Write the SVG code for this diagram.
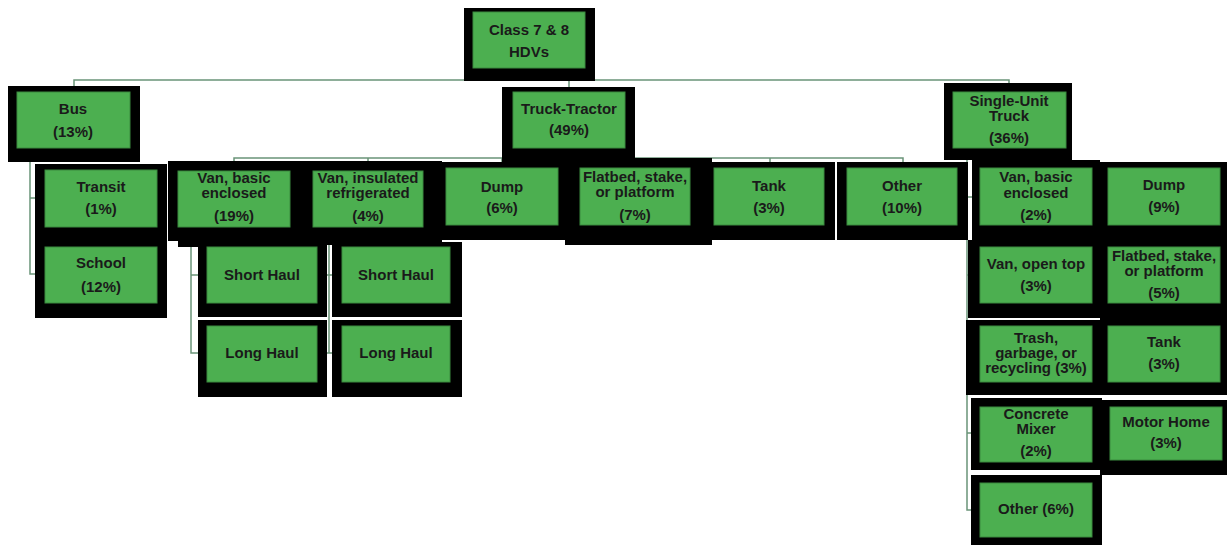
<svg xmlns="http://www.w3.org/2000/svg" width="1227" height="546" viewBox="0 0 1227 546">
<style>
.bk{fill:#000}
.gr{fill:#4caf50;stroke:#3b8a3f;stroke-width:1}
.t{font-family:"Liberation Sans",Arial,sans-serif;font-weight:bold;font-size:15px;fill:#1a1a1a;text-anchor:middle}
.c{fill:none;stroke:#6a9478;stroke-width:1.5}
</style>
<rect width="1227" height="546" fill="#fff"/>
<g id="connectors">
<path class="c" d="M74,86 V80 H1009 V84 M569,80 V88 M529,68 V80"/>
<path class="c" d="M30,162 V274 H36 M30,198 H36"/>
<path class="c" d="M234,162 V158 H903 V162 M368,158 V162 M502,158 V162 M770,158 V162 M635,158 V162"/>
<path class="c" d="M191,245 V353 H199 M191,275 H199"/>
<path class="c" d="M329,245 V353 M326,275 H333 M326,353 H333"/>
<path class="c" d="M967,160 V510 H972 M967,197 H973 M967,275 H972 M967,433 H972"/>
</g>
<g id="root"><rect class="bk" x="464" y="8" width="131" height="73"/><rect class="gr" x="473" y="12" width="112" height="56"/><text class="t" x="529" y="35">Class 7 &amp; 8</text><text class="t" x="529" y="57">HDVs</text></g>
<g id="bus"><rect class="bk" x="8" y="86" width="132" height="76"/><rect class="gr" x="17" y="92" width="113" height="56"/><text class="t" x="73" y="114">Bus</text><text class="t" x="73" y="137">(13%)</text></g>
<g id="truck-tractor"><rect class="bk" x="502" y="87" width="133" height="76"/><rect class="gr" x="513" y="92" width="112" height="56"/><text class="t" x="569" y="114">Truck-Tractor</text><text class="t" x="569" y="135">(49%)</text></g>
<g id="single-unit"><rect class="bk" x="944" y="83" width="128" height="77"/><rect class="gr" x="953" y="92" width="113" height="56"/><text class="t" x="1009" y="106">Single-Unit</text><text class="t" x="1009" y="121">Truck</text><text class="t" x="1009" y="143">(36%)</text></g>
<g id="transit"><rect class="bk" x="35" y="164" width="132" height="77"/><rect class="gr" x="45" y="170" width="112" height="57"/><text class="t" x="101" y="192">Transit</text><text class="t" x="101" y="214">(1%)</text></g>
<g id="school"><rect class="bk" x="35" y="240" width="132" height="78"/><rect class="gr" x="45" y="247" width="112" height="56"/><text class="t" x="101" y="268">School</text><text class="t" x="101" y="292">(12%)</text></g>
<g id="tt-van-basic"><rect class="bk" x="168" y="161" width="130" height="80"/><rect class="bk" x="178" y="200" width="120" height="47"/><rect class="gr" x="178" y="171" width="112" height="56"/><text class="t" x="234" y="183">Van, basic</text><text class="t" x="234" y="198">enclosed</text><text class="t" x="234" y="221">(19%)</text></g>
<g id="tt-van-insulated"><rect class="bk" x="298" y="161" width="144" height="84"/><rect class="gr" x="313" y="171" width="110" height="56"/><text class="t" x="368" y="183">Van, insulated</text><text class="t" x="368" y="198">refrigerated</text><text class="t" x="368" y="221">(4%)</text></g>
<g id="tt-dump"><rect class="bk" x="436" y="162" width="130" height="78"/><rect class="gr" x="446" y="168" width="112" height="57"/><text class="t" x="502" y="192">Dump</text><text class="t" x="502" y="213">(6%)</text></g>
<g id="tt-flatbed"><rect class="bk" x="565" y="158" width="147" height="87"/><rect class="gr" x="580" y="168" width="110" height="57"/><text class="t" x="635" y="182">Flatbed, stake,</text><text class="t" x="635" y="197">or platform</text><text class="t" x="635" y="220">(7%)</text></g>
<g id="tt-tank"><rect class="bk" x="712" y="162" width="123" height="78"/><rect class="gr" x="714" y="168" width="110" height="57"/><text class="t" x="769" y="191">Tank</text><text class="t" x="769" y="213">(3%)</text></g>
<g id="tt-other"><rect class="bk" x="837" y="162" width="131" height="78"/><rect class="gr" x="847" y="168" width="110" height="57"/><text class="t" x="902" y="191">Other</text><text class="t" x="902" y="213">(10%)</text></g>
<g id="su-van-basic"><rect class="bk" x="972" y="160" width="128" height="80"/><rect class="gr" x="980" y="168" width="112" height="57"/><text class="t" x="1036" y="182">Van, basic</text><text class="t" x="1036" y="198">enclosed</text><text class="t" x="1036" y="220">(2%)</text></g>
<g id="su-dump"><rect class="bk" x="1100" y="162" width="127" height="78"/><rect class="gr" x="1108" y="168" width="112" height="57"/><text class="t" x="1164" y="190">Dump</text><text class="t" x="1164" y="212">(9%)</text></g>
<g id="su-van-open"><rect class="bk" x="968" y="240" width="132" height="78"/><rect class="gr" x="980" y="247" width="112" height="56"/><text class="t" x="1036" y="269">Van, open top</text><text class="t" x="1036" y="291">(3%)</text></g>
<g id="su-flatbed"><rect class="bk" x="1100" y="240" width="127" height="78"/><rect class="gr" x="1108" y="247" width="112" height="56"/><text class="t" x="1164" y="261">Flatbed, stake,</text><text class="t" x="1164" y="276">or platform</text><text class="t" x="1164" y="298">(5%)</text></g>
<g id="su-trash"><rect class="bk" x="966" y="320" width="134" height="75"/><rect class="gr" x="980" y="326" width="112" height="56"/><text class="t" x="1036" y="343">Trash,</text><text class="t" x="1036" y="358">garbage, or</text><text class="t" x="1036" y="373">recycling (3%)</text></g>
<g id="su-tank"><rect class="bk" x="1100" y="318" width="127" height="77"/><rect class="gr" x="1108" y="326" width="112" height="56"/><text class="t" x="1164" y="347">Tank</text><text class="t" x="1164" y="369">(3%)</text></g>
<g id="su-concrete"><rect class="bk" x="971" y="398" width="131" height="72"/><rect class="gr" x="980" y="407" width="112" height="55"/><text class="t" x="1036" y="419">Concrete</text><text class="t" x="1036" y="434">Mixer</text><text class="t" x="1036" y="456">(2%)</text></g>
<g id="su-motorhome"><rect class="bk" x="1100" y="400" width="127" height="75"/><rect class="gr" x="1110" y="407" width="112" height="53"/><text class="t" x="1166" y="427">Motor Home</text><text class="t" x="1166" y="448">(3%)</text></g>
<g id="su-other"><rect class="bk" x="971" y="475" width="131" height="70"/><rect class="gr" x="980" y="483" width="112" height="54"/><text class="t" x="1036" y="514">Other (6%)</text></g>
<g id="vb-short"><rect class="bk" x="198" y="242" width="129" height="75"/><rect class="gr" x="207" y="247" width="110" height="56"/><text class="t" x="262" y="280">Short Haul</text></g>
<g id="vi-short"><rect class="bk" x="332" y="242" width="130" height="75"/><rect class="gr" x="342" y="247" width="108" height="56"/><text class="t" x="396" y="280">Short Haul</text></g>
<g id="vb-long"><rect class="bk" x="198" y="320" width="129" height="77"/><rect class="gr" x="207" y="326" width="110" height="56"/><text class="t" x="262" y="358">Long Haul</text></g>
<g id="vi-long"><rect class="bk" x="332" y="320" width="130" height="77"/><rect class="gr" x="342" y="326" width="108" height="56"/><text class="t" x="396" y="358">Long Haul</text></g>
</svg>
